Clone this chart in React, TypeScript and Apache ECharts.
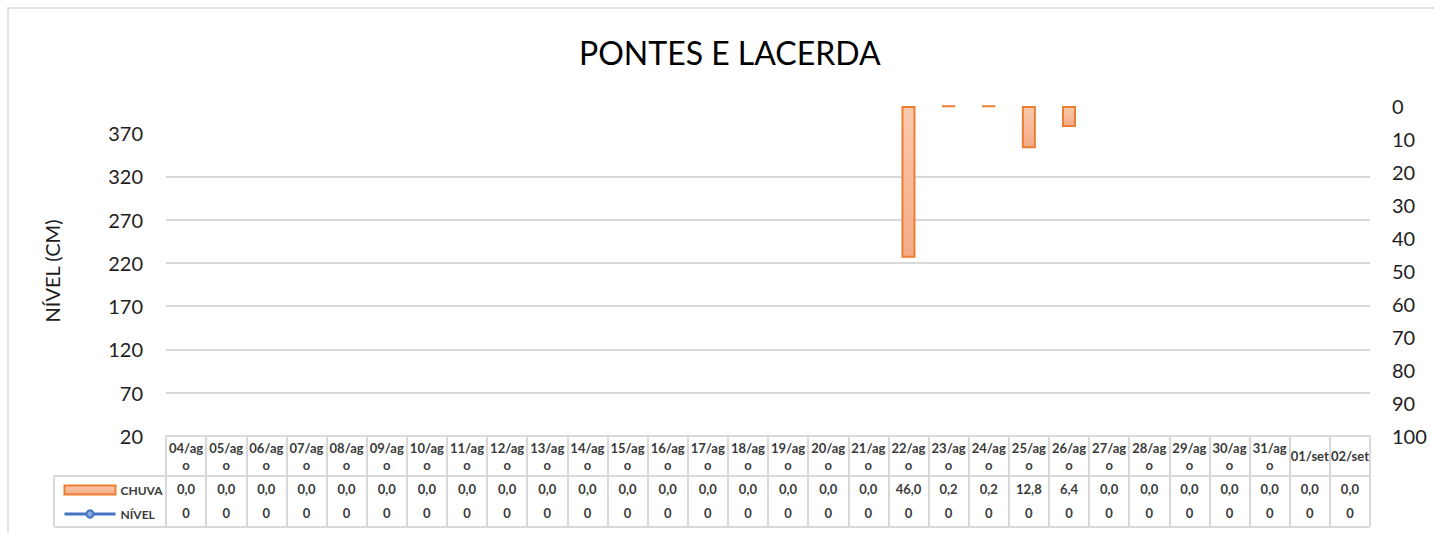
import React, { useEffect, useRef } from "react";
import * as echarts from "echarts";

const categories = [
  "04/ago", "05/ago", "06/ago", "07/ago", "08/ago", "09/ago", "10/ago", "11/ago",
  "12/ago", "13/ago", "14/ago", "15/ago", "16/ago", "17/ago", "18/ago", "19/ago",
  "20/ago", "21/ago", "22/ago", "23/ago", "24/ago", "25/ago", "26/ago", "27/ago",
  "28/ago", "29/ago", "30/ago", "31/ago", "01/set", "02/set",
];
const chuva = [
  0, 0, 0, 0, 0, 0, 0, 0, 0, 0, 0, 0, 0, 0, 0, 0, 0, 0,
  46.0, 0.2, 0.2, 12.8, 6.4, 0, 0, 0, 0, 0, 0, 0,
];
const nivel = [
  0, 0, 0, 0, 0, 0, 0, 0, 0, 0, 0, 0, 0, 0, 0, 0, 0, 0,
  0, 0, 0, 0, 0, 0, 0, 0, 0, 0, 0, 0,
];
const nivelTicks = [20, 70, 120, 170, 220, 270, 320, 370];
const nivelMin = 20;
const nivelMax = 401.5;
const chuvaMin = 0;
const chuvaMax = 100;
const chuvaInterval = 10;

const FONT = "Lato, 'Noto Sans', sans-serif";
const GRID_COLOR = "#d9d9d9";
const TEXT = "#1e1e1e";
const TABLE_TEXT = "#3a3a3a";

export default function App() {
  const ref = useRef<HTMLDivElement>(null);

  useEffect(() => {
    if (!ref.current) return;
    const chart = echarts.init(ref.current, undefined, { renderer: "svg" });

    const gridLeft = 166;
    const gridRight = 1370;
    const gridTop = 106;
    const gridBottom = 436;
    const tableBottom = 527;
    const headerBottom = 476;
    const legendLeft = 54;

    const headerFmt = (v: string) => (v.endsWith("ago") ? v.slice(0, -1) + "\no" : v);
    const fmtChuva = (v: number) => v.toFixed(1).replace(".", ",");

    const tableLabel = {
      interval: 0,
      fontFamily: FONT,
      fontSize: 13,
      fontWeight: "bold" as const,
      color: TABLE_TEXT,
      verticalAlign: "middle" as const,
    };

    chart.setOption({
      animation: false,
      backgroundColor: "#fff",
      textStyle: { fontFamily: FONT },
      title: {
        text: "PONTES E LACERDA",
        left: 574,
        top: 31,
        textStyle: { fontFamily: FONT, fontSize: 32, fontWeight: "normal", color: "#000" },
      },
      legend: {
        orient: "vertical",
        left: 58,
        top: 478,
        itemWidth: 51,
        itemHeight: 9,
        itemGap: 10,
        textStyle: { fontFamily: FONT, fontSize: 12, fontWeight: "bold", color: TABLE_TEXT, lineHeight: 14 },
        data: [
          { name: "CHUVA", icon: "rect" },
          { name: "NÍVEL", lineStyle: { width: 3, color: "#4472c4" } },
        ],
      },
      grid: {
        left: gridLeft,
        right: 1434 - gridRight,
        top: gridTop,
        bottom: 533 - gridBottom,
        containLabel: false,
      },
      xAxis: [
        {
          type: "category",
          data: categories,
          position: "bottom",
          boundaryGap: true,
          splitLine: { show: false },
          axisLine: { show: true, onZero: false, lineStyle: { color: GRID_COLOR, width: 2 } },
          axisTick: {
            show: true,
            inside: false,
            interval: 0,
            length: tableBottom - gridBottom,
            lineStyle: { color: GRID_COLOR, width: 2 },
          },
          axisLabel: { ...tableLabel, margin: 20, lineHeight: 17, formatter: headerFmt },
        },
        {
          type: "category",
          data: categories,
          position: "bottom",
          splitLine: { show: false },
          axisLine: { show: false, onZero: false },
          axisTick: { show: false },
          axisLabel: {
            ...tableLabel,
            margin: 53,
            formatter: (_v: string, i: number) => fmtChuva(chuva[i]),
          },
        },
        {
          type: "category",
          data: categories,
          position: "bottom",
          splitLine: { show: false },
          axisLine: { show: false, onZero: false },
          axisTick: { show: false },
          axisLabel: {
            ...tableLabel,
            margin: 77,
            formatter: (_v: string, i: number) => String(nivel[i]),
          },
        },
      ],
      yAxis: [
        {
          type: "value",
          position: "left",
          min: nivelMin,
          max: nivelMax,
          name: "NÍVEL (CM)",
          nameLocation: "middle",
          nameGap: 104,
          nameTextStyle: { fontFamily: FONT, fontSize: 20, color: TEXT },
          axisLine: { show: false },
          axisTick: { show: false, customValues: nivelTicks },
          axisLabel: {
            customValues: nivelTicks,
            margin: 23,
            fontFamily: FONT,
            fontSize: 20,
            color: TEXT,
          },
          splitLine: { show: true, showMaxLine: false, lineStyle: { color: GRID_COLOR, width: 2 } },
        },
        {
          type: "value",
          position: "right",
          inverse: true,
          min: chuvaMin,
          max: chuvaMax,
          interval: chuvaInterval,
          axisLine: { show: false },
          axisTick: { show: false },
          axisLabel: { margin: 22, fontFamily: FONT, fontSize: 20, color: TEXT },
          splitLine: { show: false },
        },
      ],
      series: [
        {
          name: "CHUVA",
          type: "bar",
          xAxisIndex: 0,
          yAxisIndex: 1,
          barWidth: 14,
          itemStyle: {
            color: new echarts.graphic.LinearGradient(0, 0, 0, 1, [
              { offset: 0, color: "#f9caad" },
              { offset: 1, color: "#f4ab87" },
            ]),
            borderColor: "#ed7d31",
            borderWidth: 2,
          },
          data: chuva.map((v) => (v === 0 ? { value: v, itemStyle: { borderWidth: 0, opacity: 0 } } : v)),
        },
        {
          name: "NÍVEL",
          type: "line",
          xAxisIndex: 0,
          yAxisIndex: 0,
          symbol: "circle",
          symbolSize: 9,
          lineStyle: { color: "#4472c4", width: 3 },
          itemStyle: { color: "#8faadc", borderColor: "#4472c4", borderWidth: 1.5 },
          data: nivel,
        },
      ],
      graphic: [
        {
          type: "rect",
          silent: true,
          shape: { x: 8, y: 8, width: 1480, height: 580 },
          style: { fill: "none", stroke: GRID_COLOR, lineWidth: 1.5 },
        },
        {
          type: "line",
          silent: true,
          shape: { x1: legendLeft, y1: headerBottom, x2: gridRight, y2: headerBottom },
          style: { stroke: GRID_COLOR, lineWidth: 2 },
        },
        {
          type: "line",
          silent: true,
          shape: { x1: legendLeft, y1: tableBottom, x2: gridRight, y2: tableBottom },
          style: { stroke: GRID_COLOR, lineWidth: 2 },
        },
        {
          type: "line",
          silent: true,
          shape: { x1: legendLeft, y1: headerBottom, x2: legendLeft, y2: tableBottom },
          style: { stroke: GRID_COLOR, lineWidth: 2 },
        },
      ],
    });

    return () => chart.dispose();
  }, []);

  return (
    <div
      ref={ref}
      style={{ position: "fixed", left: 0, top: 0, width: 1434, height: 533, background: "#fff" }}
    />
  );
}
